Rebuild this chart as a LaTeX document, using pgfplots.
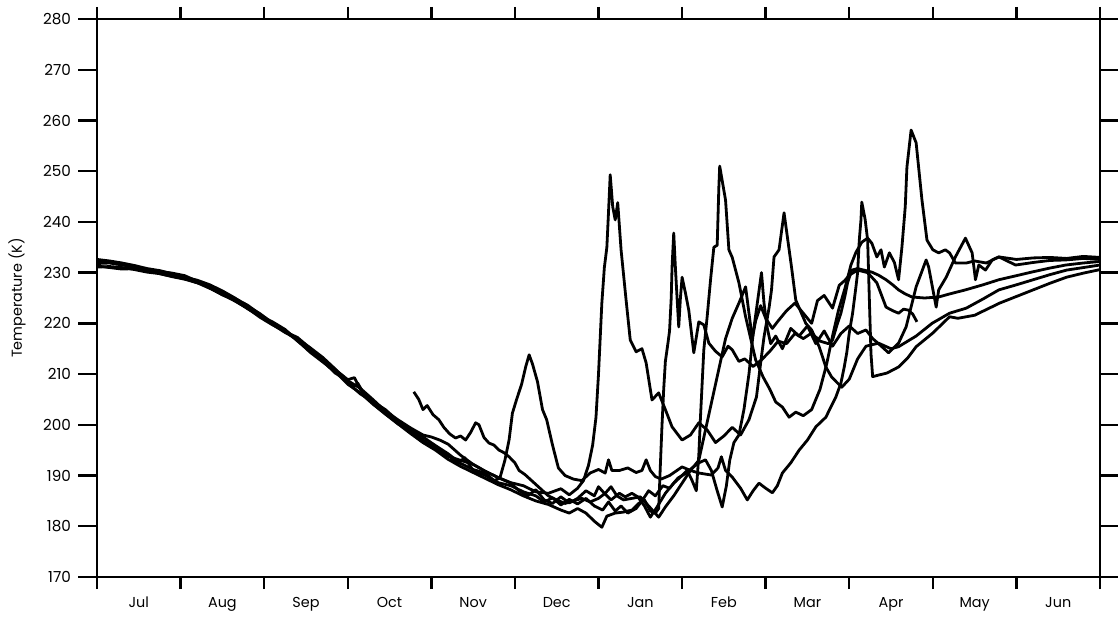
\documentclass[border=0pt]{standalone}
\usepackage{fontspec}
\setmainfont{Poppins}
\usepackage{pgfplots}
\pgfplotsset{compat=1.18}
\tikzset{ser/.style={black, line width=1.4pt, line join=round, mark=none}}
\begin{document}
\begin{tikzpicture}
\begin{axis}[
 scale only axis, width=501.5pt, height=279pt,
 xmin=0, xmax=12, ymin=170, ymax=280,
 axis line style={line width=1.3pt},
 xtick={0.5,1.5,...,11.5},
 xticklabels={Jul,Aug,Sep,Oct,Nov,Dec,Jan,Feb,Mar,Apr,May,Jun},
 every major x tick/.append style={draw=none},
 minor xtick={0,1,...,12},
 ytick={170,180,...,280},
 tick align=outside,
 minor tick length=6pt,
 major tick length=9.5pt,
 tick style={line width=1.2pt, black},
 x tick label style={font=\fontsize{7.2}{8}\selectfont, yshift=3pt},
 y tick label style={font=\fontsize{7.6}{8}\selectfont},
 /pgf/number format/assume math mode=true,
 ylabel={Temperature (K)},
 ylabel style={font=\fontsize{7.2}{8}\selectfont, at={(axis description cs:-0.0798,0.5)}, anchor=center},
]
% S1
\addplot[ser] coordinates {(0,232.3)(0.15,232.1)(0.3,231.6)(0.45,231.0)(0.6,230.3)(0.75,230.2)(0.9,229.9)(1.05,229.4)(1.2,228.3)(1.35,227.0)(1.5,225.8)(1.65,224.9)(1.8,223.6)(1.95,221.8)(2.1,219.8)(2.25,218.2)(2.4,216.9)(2.55,215.2)(2.7,213.3)(2.85,211.0)(3.0,208.3)(3.15,206.1)(3.3,204.6)(3.45,203.0)(3.6,200.8)(3.75,198.5)(3.9,196.6)(4.05,195.2)(4.2,193.8)(4.35,193.0)(4.5,192.2)(4.65,190.8)(4.8,189.6)(4.95,188.6)(5.1,188.0)(5.25,186.8)(5.4,186.5)(5.55,187.4)(5.65,186.2)(5.75,187.5)(5.82,189.0)(5.88,192.0)(5.93,196.0)(5.97,201.5)(6.0,210.0)(6.02,217.0)(6.04,224.0)(6.07,231.0)(6.1,235.0)(6.12,242.0)(6.14,249.3)(6.17,243.0)(6.2,240.4)(6.23,243.8)(6.27,234.5)(6.33,224.6)(6.38,216.7)(6.45,214.4)(6.52,215.0)(6.57,212.2)(6.64,204.9)(6.72,206.3)(6.8,203.0)(6.88,199.6)(7.0,197.0)(7.1,198.0)(7.2,200.4)(7.3,199.0)(7.4,196.5)(7.5,197.8)(7.6,199.5)(7.7,198.0)(7.8,201.0)(7.89,205.5)(7.94,212.2)(7.98,217.3)(8.04,223.0)(8.07,226.6)(8.1,233.1)(8.16,234.5)(8.22,241.8)(8.31,231.0)(8.36,224.6)(8.48,220.0)(8.55,218.7)(8.64,215.4)(8.72,211.4)(8.79,209.4)(8.91,207.4)(9.0,209.0)(9.1,213.0)(9.2,215.5)(9.35,216.1)(9.5,215.0)(9.59,215.4)(9.8,217.5)(9.99,220.0)(10.2,222.0)(10.4,223.0)(10.6,224.8)(10.79,226.6)(11.0,227.6)(11.2,228.6)(11.4,229.6)(11.6,230.5)(11.8,231.0)(12.0,231.5)};
% S2
\addplot[ser] coordinates {(0,231.8)(0.15,231.9)(0.3,231.5)(0.45,231.2)(0.6,230.6)(0.75,229.8)(0.9,229.3)(1.05,228.8)(1.2,228.0)(1.35,227.4)(1.5,226.3)(1.65,224.5)(1.8,222.9)(1.95,221.4)(2.1,220.3)(2.25,218.8)(2.4,216.5)(2.55,214.5)(2.7,212.6)(2.85,210.9)(3.0,208.9)(3.08,209.3)(3.15,207.0)(3.3,204.2)(3.45,202.2)(3.6,200.2)(3.75,199.1)(3.9,197.6)(4.05,195.9)(4.2,194.3)(4.35,192.4)(4.5,191.2)(4.65,190.4)(4.75,189.0)(4.82,189.5)(4.88,193.0)(4.93,197.0)(4.97,202.3)(5.02,205.0)(5.08,208.0)(5.13,211.5)(5.17,213.8)(5.21,212.0)(5.27,208.5)(5.33,203.0)(5.38,201.0)(5.45,196.0)(5.52,191.5)(5.6,190.0)(5.7,189.3)(5.8,189.0)(5.9,190.5)(6.0,191.2)(6.08,190.5)(6.12,193.1)(6.16,191.0)(6.25,191.0)(6.35,191.5)(6.45,190.6)(6.52,191.0)(6.57,193.1)(6.62,191.0)(6.68,189.8)(6.75,189.3)(6.85,190.0)(7.0,191.7)(7.1,191.0)(7.2,190.5)(7.35,190.1)(7.43,191.5)(7.47,193.7)(7.52,191.0)(7.6,189.7)(7.7,187.5)(7.78,185.2)(7.85,187.0)(7.92,188.5)(8.0,187.5)(8.08,186.6)(8.14,188.0)(8.2,190.5)(8.3,192.5)(8.4,195.0)(8.5,197.0)(8.6,199.6)(8.72,201.5)(8.84,205.5)(8.9,208.2)(8.94,211.4)(8.97,214.2)(9.0,218.1)(9.04,222.0)(9.08,227.2)(9.1,230.0)(9.12,236.4)(9.14,240.4)(9.15,243.9)(9.19,240.5)(9.22,236.4)(9.24,225.0)(9.26,214.0)(9.28,209.5)(9.35,209.8)(9.45,210.2)(9.59,211.4)(9.7,213.2)(9.8,215.4)(10.0,218.1)(10.2,221.3)(10.3,221.0)(10.5,221.6)(10.8,224.0)(11.0,225.3)(11.2,226.6)(11.4,227.9)(11.6,229.1)(11.8,229.9)(12.0,230.6)};
% S3 (late start, early end)
\addplot[ser] coordinates {(3.79,206.5)(3.85,205.0)(3.9,203.0)(3.95,203.8)(4.02,202.0)(4.09,201.0)(4.15,199.5)(4.22,198.2)(4.29,197.4)(4.35,197.8)(4.41,197.0)(4.47,198.5)(4.53,200.4)(4.57,200.0)(4.63,197.5)(4.69,196.4)(4.75,196.0)(4.81,195.0)(4.87,194.5)(4.93,193.7)(5.0,192.5)(5.05,191.0)(5.12,190.2)(5.2,189.0)(5.3,187.5)(5.4,186.0)(5.5,185.2)(5.6,184.5)(5.7,185.0)(5.8,185.5)(5.9,184.8)(6.0,185.5)(6.08,186.5)(6.15,187.8)(6.22,186.0)(6.3,185.2)(6.4,185.5)(6.5,185.8)(6.6,184.0)(6.72,181.8)(6.8,183.8)(6.9,186.0)(7.0,188.5)(7.1,191.0)(7.2,193.0)(7.28,199.0)(7.36,205.0)(7.44,211.0)(7.52,217.0)(7.6,221.0)(7.68,224.0)(7.76,227.2)(7.8,222.0)(7.84,217.0)(7.88,220.5)(7.94,223.5)(8.0,221.0)(8.08,219.0)(8.15,220.5)(8.25,222.5)(8.35,224.0)(8.45,222.0)(8.55,220.0)(8.62,224.5)(8.7,225.5)(8.8,223.0)(8.88,227.5)(8.95,228.5)(9.0,229.5)(9.1,230.5)(9.22,230.0)(9.33,228.0)(9.44,223.2)(9.52,222.5)(9.59,222.0)(9.65,222.8)(9.71,222.6)(9.76,221.8)(9.81,220.3)};
% S4
\addplot[ser] coordinates {(0,231.1)(0.15,231.2)(0.3,231.0)(0.45,230.6)(0.6,230.1)(0.75,229.8)(0.9,229.2)(1.05,228.7)(1.2,228.0)(1.35,226.9)(1.5,225.7)(1.65,224.4)(1.8,223.0)(1.95,221.2)(2.1,219.7)(2.25,218.4)(2.4,216.6)(2.55,214.3)(2.7,212.4)(2.85,210.5)(3.0,208.0)(3.15,206.3)(3.3,204.1)(3.45,202.1)(3.6,200.2)(3.75,198.3)(3.9,196.5)(4.05,195.0)(4.2,193.2)(4.35,191.8)(4.5,190.6)(4.65,189.4)(4.8,188.2)(4.95,187.2)(5.1,186.0)(5.25,185.0)(5.4,184.3)(5.55,183.2)(5.65,182.6)(5.75,183.5)(5.85,182.6)(5.95,181.0)(6.04,179.8)(6.1,182.0)(6.2,182.6)(6.3,182.8)(6.4,183.2)(6.48,184.5)(6.55,185.2)(6.62,183.0)(6.68,182.6)(6.72,183.5)(6.74,192.0)(6.76,200.0)(6.78,207.0)(6.8,212.5)(6.83,216.0)(6.85,218.5)(6.87,225.0)(6.88,231.1)(6.9,237.8)(6.92,231.0)(6.94,225.0)(6.96,219.3)(6.98,225.0)(7.0,229.1)(7.04,226.0)(7.08,222.6)(7.14,214.2)(7.2,220.3)(7.26,219.7)(7.32,216.1)(7.4,214.5)(7.48,213.4)(7.55,215.5)(7.6,214.8)(7.68,212.5)(7.75,213.0)(7.85,211.5)(7.95,212.8)(8.05,214.5)(8.15,216.5)(8.25,216.0)(8.35,218.0)(8.45,217.0)(8.55,218.1)(8.65,216.5)(8.75,216.0)(8.8,216.7)(8.85,219.5)(8.9,222.0)(8.95,225.5)(8.98,228.0)(9.03,230.5)(9.1,230.8)(9.2,230.4)(9.27,230.1)(9.35,229.5)(9.44,228.6)(9.52,227.6)(9.59,226.6)(9.67,225.8)(9.75,225.2)(9.9,225.0)(10.07,225.2)(10.2,225.8)(10.39,226.6)(10.6,227.6)(10.79,228.6)(11.0,229.4)(11.18,230.1)(11.4,230.9)(11.59,231.5)(11.8,231.9)(12.0,232.2)};
% S5
\addplot[ser] coordinates {(0,232.6)(0.15,232.3)(0.3,231.9)(0.45,231.4)(0.6,230.8)(0.75,230.4)(0.9,229.8)(1.05,229.1)(1.2,228.5)(1.35,227.6)(1.5,226.4)(1.65,225.0)(1.8,223.4)(1.95,221.9)(2.1,220.1)(2.25,218.4)(2.4,217.2)(2.55,215.1)(2.7,212.6)(2.85,210.2)(3.0,208.7)(3.15,207.2)(3.3,205.0)(3.45,202.7)(3.6,201.0)(3.75,199.4)(3.9,198.0)(4.0,197.6)(4.1,197.0)(4.2,196.2)(4.35,194.0)(4.5,192.2)(4.65,190.8)(4.8,189.6)(4.95,188.5)(5.05,187.0)(5.15,186.0)(5.25,187.2)(5.35,185.2)(5.45,184.5)(5.55,185.8)(5.65,184.6)(5.75,185.5)(5.85,187.0)(5.95,186.0)(6.0,187.8)(6.07,186.5)(6.15,185.2)(6.25,186.5)(6.32,185.8)(6.4,186.5)(6.47,185.8)(6.55,184.0)(6.62,181.8)(6.7,183.8)(6.8,186.5)(6.9,188.5)(7.0,190.0)(7.06,191.0)(7.12,189.0)(7.17,187.0)(7.2,194.0)(7.22,201.5)(7.26,214.8)(7.3,221.3)(7.34,228.5)(7.38,235.0)(7.42,235.4)(7.44,246.9)(7.45,251.0)(7.52,244.3)(7.56,234.5)(7.6,233.0)(7.68,228.0)(7.76,221.3)(7.88,212.8)(7.97,209.4)(8.05,207.0)(8.12,204.5)(8.2,203.5)(8.28,201.5)(8.36,202.5)(8.45,201.8)(8.55,203.0)(8.65,207.0)(8.73,212.0)(8.8,217.5)(8.87,222.5)(8.95,227.0)(9.02,231.5)(9.08,234.0)(9.15,236.0)(9.22,236.8)(9.27,235.8)(9.33,233.1)(9.38,234.5)(9.42,231.1)(9.48,233.9)(9.54,232.0)(9.59,228.6)(9.63,235.0)(9.67,243.0)(9.69,250.8)(9.74,258.1)(9.8,255.6)(9.87,244.3)(9.93,236.4)(10.0,234.5)(10.07,233.9)(10.15,234.5)(10.2,233.9)(10.27,231.9)(10.4,231.9)(10.5,232.3)(10.64,231.9)(10.79,233.1)(10.99,231.5)(11.2,232.0)(11.4,232.4)(11.59,232.5)(11.8,232.8)(12.0,232.6)};
% S6
\addplot[ser] coordinates {(0,231.3)(0.15,231.0)(0.3,230.7)(0.45,230.8)(0.6,230.6)(0.75,230.1)(0.9,229.4)(1.05,228.9)(1.2,228.1)(1.35,227.0)(1.5,225.6)(1.65,224.6)(1.8,223.0)(1.95,221.4)(2.1,219.9)(2.25,218.7)(2.4,216.7)(2.55,214.6)(2.7,213.0)(2.85,210.6)(3.0,208.6)(3.08,207.6)(3.12,208.2)(3.2,205.9)(3.3,204.5)(3.45,202.4)(3.6,200.7)(3.75,198.9)(3.9,197.0)(4.05,195.4)(4.2,194.2)(4.3,192.3)(4.4,193.5)(4.5,191.0)(4.65,190.0)(4.8,188.6)(4.95,188.0)(5.1,186.8)(5.25,186.0)(5.35,184.8)(5.45,185.6)(5.55,184.2)(5.65,185.3)(5.75,184.4)(5.85,185.5)(5.95,184.0)(6.05,183.2)(6.12,184.8)(6.2,183.0)(6.27,184.0)(6.35,182.6)(6.45,183.5)(6.52,185.0)(6.6,187.0)(6.68,186.0)(6.77,188.0)(6.85,187.5)(6.95,189.5)(7.05,190.5)(7.12,191.5)(7.2,192.5)(7.28,193.1)(7.35,191.0)(7.42,187.0)(7.48,183.8)(7.53,188.0)(7.57,193.0)(7.62,196.5)(7.68,198.0)(7.74,203.0)(7.8,210.0)(7.85,218.0)(7.9,224.0)(7.95,230.0)(7.98,224.0)(8.02,219.0)(8.06,216.0)(8.12,217.5)(8.2,215.0)(8.3,219.0)(8.4,217.5)(8.5,219.5)(8.6,216.0)(8.7,218.5)(8.8,215.5)(8.9,218.0)(9.0,219.5)(9.1,218.0)(9.2,218.7)(9.28,217.0)(9.35,216.0)(9.47,214.2)(9.59,216.1)(9.68,219.3)(9.8,227.2)(9.92,232.5)(9.95,231.1)(10.04,223.2)(10.07,226.6)(10.16,229.1)(10.27,233.1)(10.39,236.8)(10.47,233.9)(10.51,228.6)(10.55,231.5)(10.63,230.5)(10.71,232.5)(10.79,233.1)(11.0,232.6)(11.2,232.9)(11.4,233.0)(11.6,232.8)(11.8,233.2)(12.0,233.0)};
\end{axis}
\pgfresetboundingbox
\path[use as bounding box] ([xshift=-48.5pt,yshift=-19.5pt]current axis.south west) rectangle ([xshift=9pt,yshift=9.5pt]current axis.north east);
\end{tikzpicture}
\end{document}
